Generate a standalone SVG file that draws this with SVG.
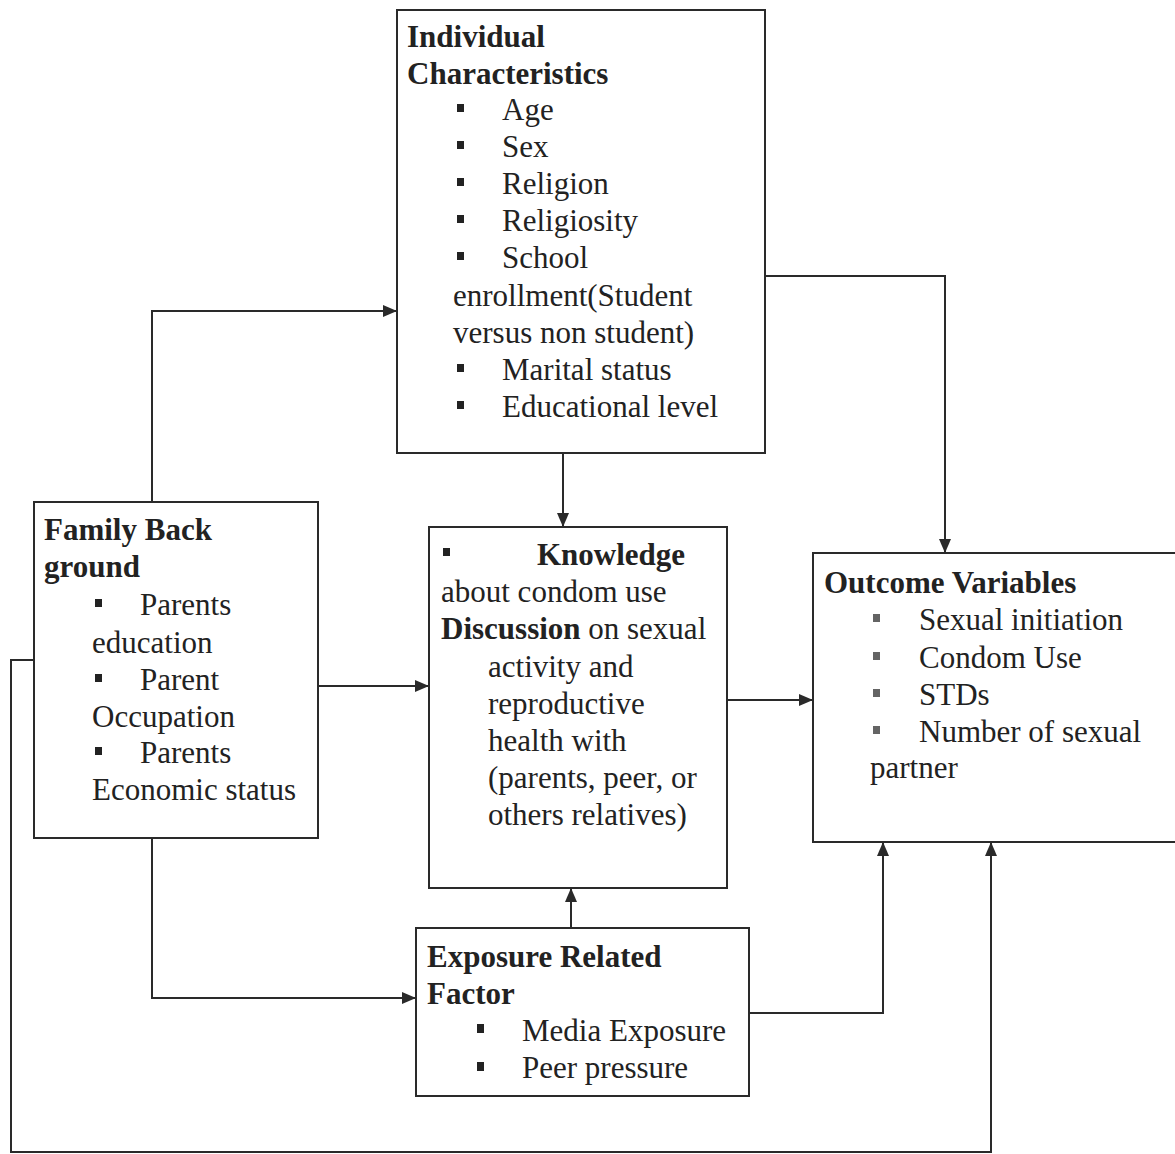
<svg xmlns="http://www.w3.org/2000/svg" width="1175" height="1154" viewBox="0 0 1175 1154">
<style>
.box{fill:#fff;stroke:#2a2a2a;stroke-width:2}
.t{font-family:"Liberation Serif","Times New Roman",serif;font-size:31px;fill:#222}
.b{font-weight:bold}
.bul{fill:#222}
.con{fill:none;stroke:#2a2a2a;stroke-width:2}
</style>
<defs>
<marker id="arr" markerUnits="userSpaceOnUse" markerWidth="14" markerHeight="12" refX="13" refY="6" orient="auto">
<path d="M0,0 L14,6 L0,12 Z" fill="#2a2a2a"/>
</marker>
</defs>
<rect width="1175" height="1154" fill="#fff"/>
<g id="connectors">
<path class="con" d="M152,502 V311 H396" marker-end="url(#arr)"/>
<path class="con" d="M765,276 H945 V552" marker-end="url(#arr)"/>
<path class="con" d="M563,453 V526" marker-end="url(#arr)"/>
<path class="con" d="M318,686 H428" marker-end="url(#arr)"/>
<path class="con" d="M727,700 H812" marker-end="url(#arr)"/>
<path class="con" d="M152,838 V998 H415" marker-end="url(#arr)"/>
<path class="con" d="M571,928 V889" marker-end="url(#arr)"/>
<path class="con" d="M749,1013 H883 V843" marker-end="url(#arr)"/>
<path class="con" d="M34,660 H11 V1152 H991 V843" marker-end="url(#arr)"/>
</g>
<g id="individual">
<rect class="box" x="397" y="10" width="368" height="443"/>
<text class="t b" x="407" y="47">Individual</text>
<text class="t b" x="407" y="84">Characteristics</text>
<rect class="bul" x="457" y="104" width="7" height="8"/><text class="t" x="502" y="120">Age</text>
<rect class="bul" x="457" y="141" width="7" height="8"/><text class="t" x="502" y="157">Sex</text>
<rect class="bul" x="457" y="178" width="7" height="8"/><text class="t" x="502" y="194">Religion</text>
<rect class="bul" x="457" y="215" width="7" height="8"/><text class="t" x="502" y="231">Religiosity</text>
<rect class="bul" x="457" y="252" width="7" height="8"/><text class="t" x="502" y="268">School</text>
<text class="t" x="453" y="306">enrollment(Student</text>
<text class="t" x="453" y="343">versus non student)</text>
<rect class="bul" x="457" y="364" width="7" height="8"/><text class="t" x="502" y="380">Marital status</text>
<rect class="bul" x="457" y="401" width="7" height="8"/><text class="t" x="502" y="417">Educational level</text>
</g>
<g id="family">
<rect class="box" x="34" y="502" width="284" height="336"/>
<text class="t b" x="44" y="540">Family Back</text>
<text class="t b" x="44" y="577">ground</text>
<rect class="bul" x="95" y="599" width="7" height="8"/><text class="t" x="140" y="615">Parents</text>
<text class="t" x="92" y="653">education</text>
<rect class="bul" x="95" y="674" width="7" height="8"/><text class="t" x="140" y="690">Parent</text>
<text class="t" x="92" y="727">Occupation</text>
<rect class="bul" x="95" y="747" width="7" height="8"/><text class="t" x="140" y="763">Parents</text>
<text class="t" x="92" y="800">Economic status</text>
</g>
<g id="knowledge">
<rect class="box" x="429" y="527" width="298" height="361"/>
<rect class="bul" x="443" y="548" width="7" height="8"/>
<text class="t b" x="537" y="565">Knowledge</text>
<text class="t" x="441" y="602">about condom use</text>
<text class="t" x="441" y="639"><tspan class="b">Discussion</tspan> on sexual</text>
<text class="t" x="488" y="677">activity and</text>
<text class="t" x="488" y="714">reproductive</text>
<text class="t" x="488" y="751">health with</text>
<text class="t" x="488" y="788">(parents, peer, or</text>
<text class="t" x="488" y="825">others relatives)</text>
</g>
<g id="outcome">
<rect class="box" x="813" y="553" width="365" height="289"/>
<text class="t b" x="824" y="593">Outcome Variables</text>
<rect class="bul" x="873" y="614" width="7" height="8" fill-opacity="0.7"/><text class="t" x="919" y="630">Sexual initiation</text>
<rect class="bul" x="873" y="652" width="7" height="8" fill-opacity="0.7"/><text class="t" x="919" y="668">Condom Use</text>
<rect class="bul" x="873" y="689" width="7" height="8" fill-opacity="0.7"/><text class="t" x="919" y="705">STDs</text>
<rect class="bul" x="873" y="726" width="7" height="8" fill-opacity="0.7"/><text class="t" x="919" y="742">Number of sexual</text>
<text class="t" x="870" y="778">partner</text>
</g>
<g id="exposure">
<rect class="box" x="416" y="928" width="333" height="168"/>
<text class="t b" x="427" y="967">Exposure Related</text>
<text class="t b" x="427" y="1004">Factor</text>
<rect class="bul" x="477" y="1024" width="7" height="9"/><text class="t" x="522" y="1041">Media Exposure</text>
<rect class="bul" x="477" y="1062" width="7" height="9"/><text class="t" x="522" y="1078">Peer pressure</text>
</g>
</svg>
